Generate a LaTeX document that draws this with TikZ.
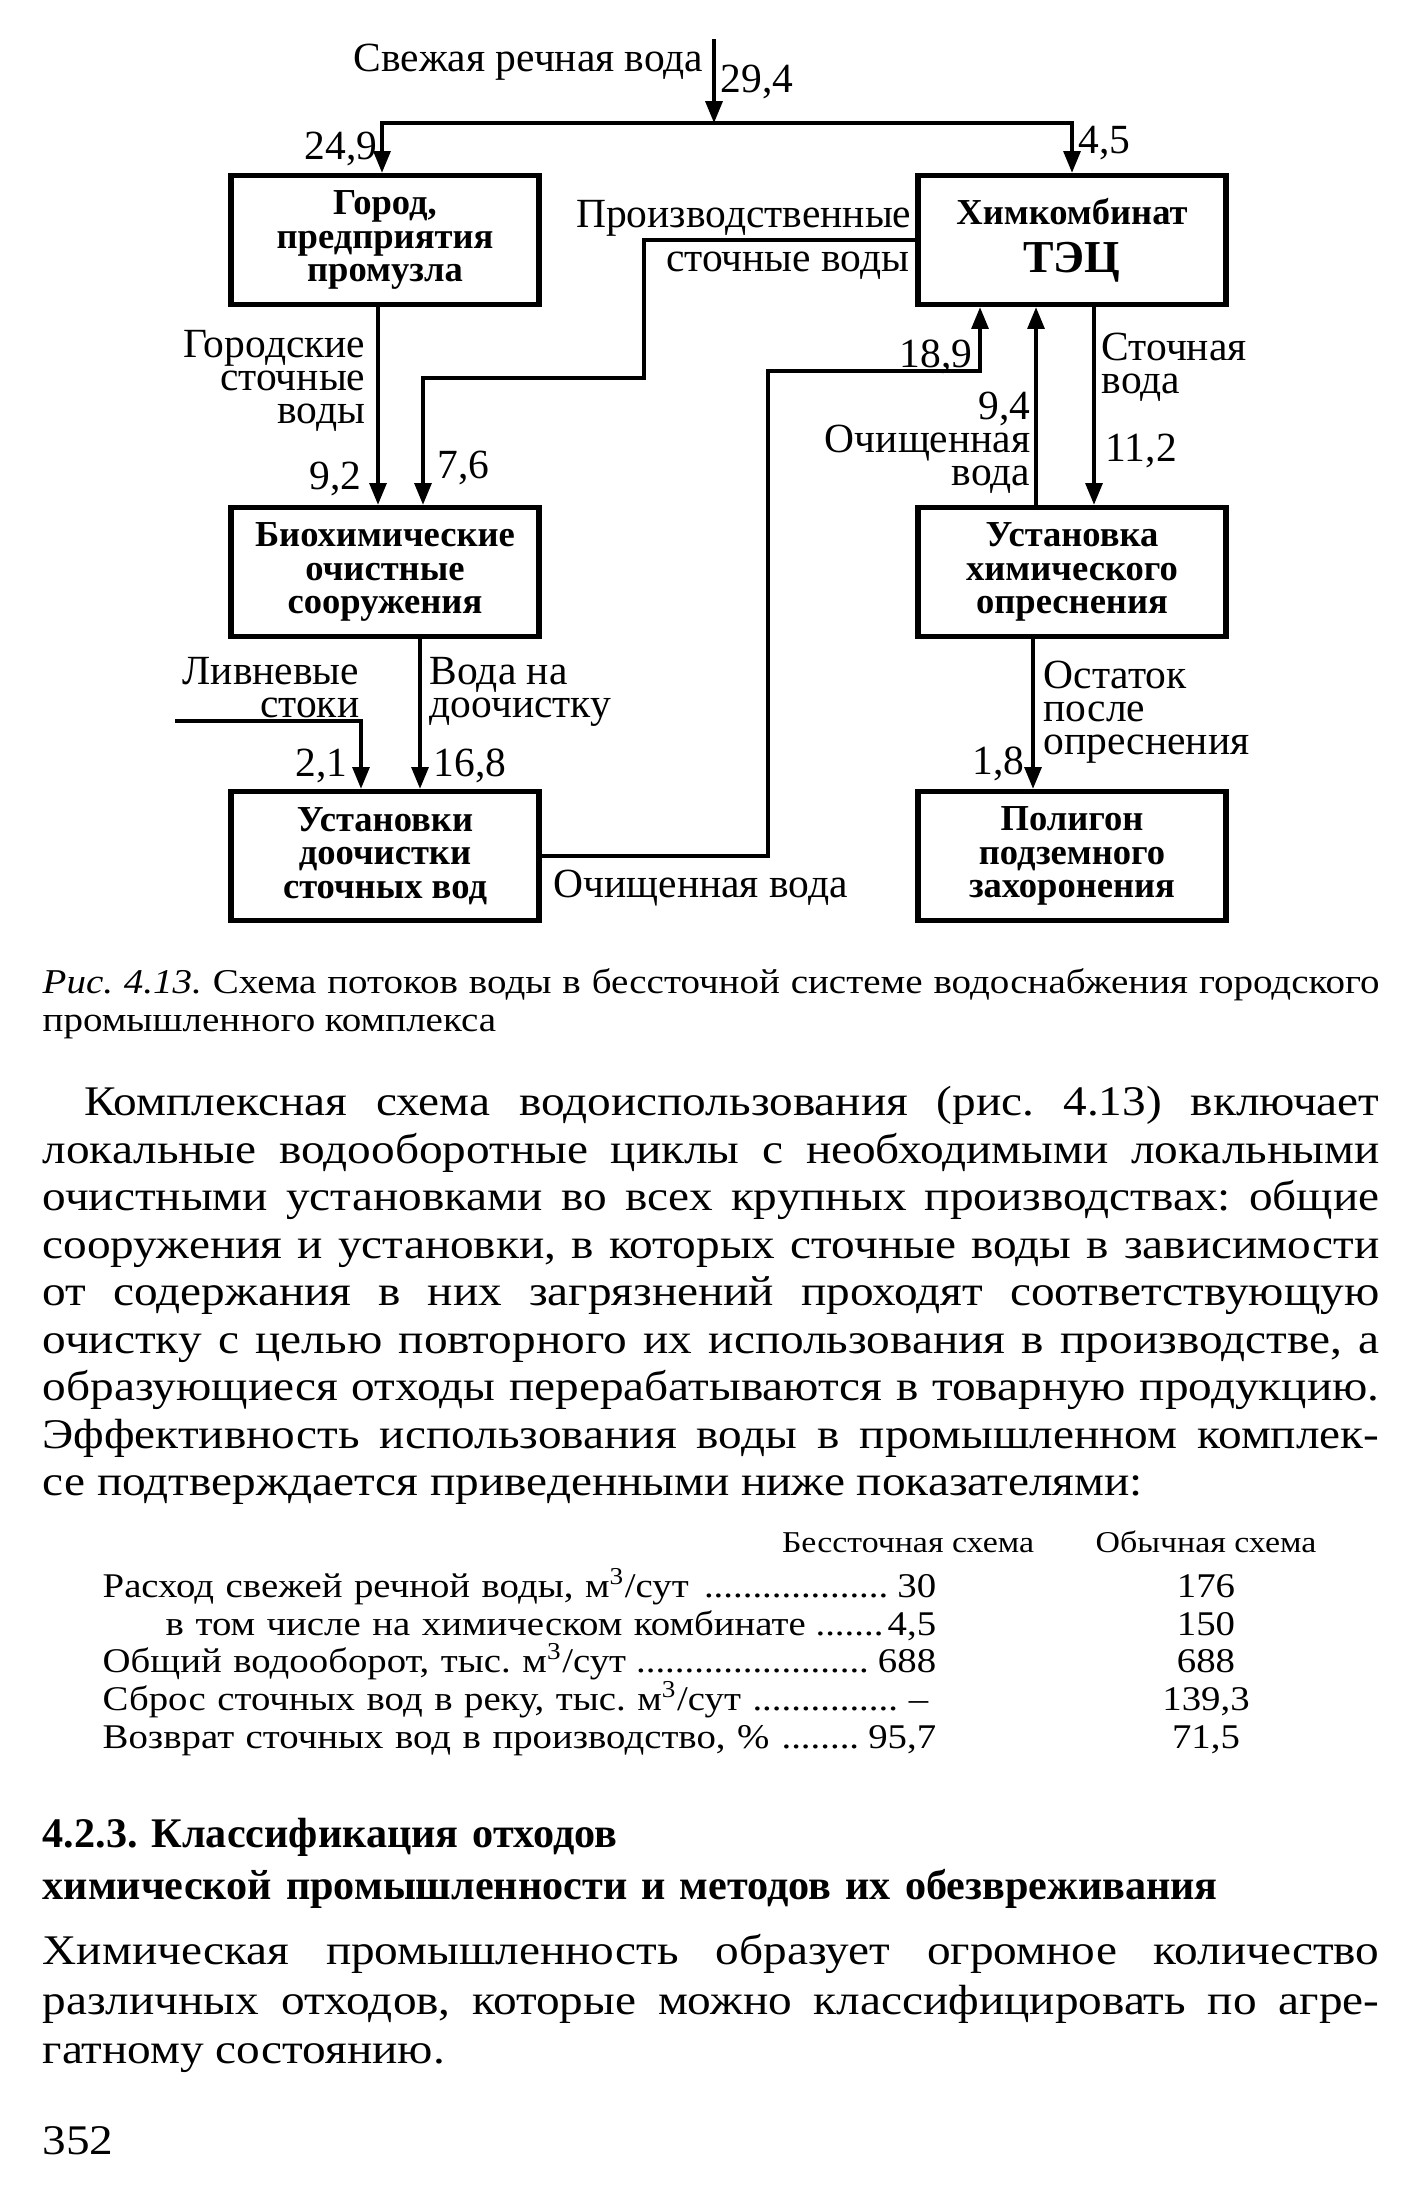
\documentclass[tikz,border=0pt]{standalone}
\usepackage{fontspec}
\setmainfont{Liberation Serif}
\newfontfamily\bookfont{Liberation Serif}[FakeStretch=1.12]
\usetikzlibrary{positioning, arrows.meta, calc}

\hyphenpenalty=10000
\tolerance=10000
\frenchspacing
\newcommand\leaderdots{\hspace{2pt}\leaders\hbox to 0.28em{\hss.\hss}\hfill\hspace{1pt}}
\newcommand\tightlines{\lineskiplimit=-20pt\relax}

\tikzset{
  box/.style={draw, line width=1.5pt, minimum width=3.08cm, minimum height=1.29cm,
    inner sep=0pt, align=center, font=\fontsize{10.4}{9.6}\selectfont\bfseries},
  flow/.style={line width=1pt, -{Triangle[length=6.2pt, width=4.8pt]}},
  lbl/.style={inner sep=0pt, font={\fontsize{11.8}{9.4}\selectfont\tightlines}},
  txt/.style={inner sep=0pt, text width=13.36cm, align=justify},
  row/.style={inner sep=0pt, font=\bookfont\fontsize{9.85}{11}\selectfont},
}

\begin{document}
\begin{tikzpicture}[x=0.01cm, y=-0.01cm]
\fill[white] (0,0) rectangle (1419,2194);
\useasboundingbox (0,0) rectangle (1419,2194);

\node[box] (gorod) at (385,240) {Город,\\предприятия\\промузла};
\node[box] (him) at (1072,240) {Химкомбинат\\[4pt]{\fontsize{13}{13}\selectfont ТЭЦ}};
\node[box] (bio) at (385,572) {Биохимические\\очистные\\сооружения};
\node[box] (opr) at (1072,572) {Установка\\химического\\опреснения};
\node[box] (ust) at (385,856) {Установки\\доочистки\\сточных вод};
\node[box] (pol) at (1072,856) {Полигон\\подземного\\захоронения};

\coordinate (src) at (714,39);
\coordinate (split) at (714,123);
\coordinate (pbend) at (644,378);
\coordinate (rain) at (175,721);
\coordinate (cbend) at (768,371);

\draw[flow] (src) -- (split);
\draw[flow] (split) -| ($(gorod.north)+(-3,0)$);
\draw[flow] (split) -| (him.north);
\draw[flow] (him.west) -| (pbend) -| ($(bio.north)+(38,0)$);
\draw[flow] ($(gorod.south)+(-7,0)$) -- ($(bio.north)+(-7,0)$);
\draw[flow] ($(bio.south)+(35,0)$) -- ($(ust.north)+(35,0)$);
\draw[flow] (rain) -| ($(ust.north)+(-24,0)$);
\draw[flow] (ust.east) -| (cbend) -| ($(him.south)+(-92,0)$);
\draw[flow] ($(opr.north)+(-36,0)$) -- ($(him.south)+(-36,0)$);
\draw[flow] ($(him.south)+(22,0)$) -- ($(opr.north)+(22,0)$);
\draw[flow] ($(opr.south)+(-39,0)$) -- ($(pol.north)+(-39,0)$);

\node[lbl, anchor=east] (fresh) at (704,62) {Свежая речная вода};
\node[lbl, anchor=west] (q294) at (720,82) {29,4};
\node[lbl, anchor=east] (q249) at (378,149) {24,9};
\node[lbl, anchor=west] (q45) at (1078,143) {4,5};
\node[lbl, anchor=east] (prod) at (912,218) {Производственные};
\node[lbl, anchor=east] (prod2) at (910,266) {сточные воды};
\node[lbl, anchor=east, align=right] (city) at (366,381) {Городские\\сточные\\воды};
\node[lbl, anchor=east] (q92) at (362,479) {9,2};
\node[lbl, anchor=west] (q76) at (437,468) {7,6};
\node[lbl, anchor=west, align=left] (todo) at (429,692) {Вода на\\доочистку};
\node[lbl, anchor=east, align=right] (storm) at (360,688) {Ливневые\\стоки};
\node[lbl, anchor=west] (q168) at (433,766) {16,8};
\node[lbl, anchor=east] (q21) at (348,766) {2,1};
\node[lbl, anchor=west] (clean) at (553,888) {Очищенная вода};
\node[lbl, anchor=east] (q189) at (973,357) {18,9};
\node[lbl, anchor=east, align=right] (clean2) at (1031,443) {9,4\\Очищенная\\вода};
\node[lbl, anchor=west, align=left] (waste) at (1101,367) {Сточная\\вода};
\node[lbl, anchor=west] (q112) at (1105,451) {11,2};
\node[lbl, anchor=west, align=left] (rest) at (1043,712) {Остаток\\после\\опреснения};
\node[lbl, anchor=east] (q18) at (1025,764) {1,8};

\node[txt, anchor=north west, font=\bookfont\fontsize{9.9}{10.8}\selectfont] (caption) at (42,968)
  {\textit{Рис. 4.13.} Схема потоков воды в бессточной системе водоснабжения городского\linebreak
   промышленного комплекса};

\node[txt, anchor=north west, font=\bookfont\fontsize{12}{13.5}\selectfont] (para1) at (42,1086)
  {\hspace*{0.42cm}Комплексная схема водоиспользования (рис. 4.13) включает\linebreak
   локальные водооборотные циклы с необходимыми локальными\linebreak
   очистными установками во всех крупных производствах: общие\linebreak
   сооружения и установки, в которых сточные воды в зависимости\linebreak
   от содержания в них загрязнений проходят соответствующую\linebreak
   очистку с целью повторного их использования в производстве, а\linebreak
   образующиеся отходы перерабатываются в товарную продукцию.\linebreak
   Эффективность использования воды в промышленном комплек-\linebreak
   се подтверждается приведенными ниже показателями:};

\node[row, anchor=base, font=\bookfont\fontsize{8.6}{10}\selectfont] (h1) at (908,1552) {Бессточная схема};
\node[row, anchor=base, font=\bookfont\fontsize{8.6}{10}\selectfont] (h2) at (1206,1552) {Обычная схема};

\node[row, anchor=base west, text width=8.33cm] (r1) at (102,1597)
  {Расход свежей речной воды, м\textsuperscript{3}/сут\leaderdots 30};
\node[row, anchor=base west, text width=7.70cm] (r2) at (165,1635)
  {в том числе на химическом комбинате\leaderdots 4,5};
\node[row, anchor=base west, text width=8.33cm] (r3) at (102,1672)
  {Общий водооборот, тыс. м\textsuperscript{3}/сут\leaderdots 688};
\node[row, anchor=base west, text width=8.25cm] (r4) at (102,1710)
  {Сброс сточных вод в реку, тыс. м\textsuperscript{3}/сут\leaderdots –};
\node[row, anchor=base west, text width=8.33cm] (r5) at (102,1748)
  {Возврат сточных вод в производство, \%\leaderdots 95,7};

\node[row, anchor=base] (v1) at (1206,1597) {176};
\node[row, anchor=base] (v2) at (1206,1635) {150};
\node[row, anchor=base] (v3) at (1206,1672) {688};
\node[row, anchor=base] (v4) at (1206,1710) {139,3};
\node[row, anchor=base] (v5) at (1206,1748) {71,5};

\node[txt, anchor=north west, align=left, font=\fontsize{12}{14.8}\selectfont\bfseries] (head) at (42,1817)
  {4.2.3. Классификация отходов\\
   химической промышленности и методов их обезвреживания};

\node[txt, anchor=north west, font=\bookfont\fontsize{12}{14}\selectfont] (para2) at (42,1934)
  {Химическая промышленность образует огромное количество\linebreak
   различных отходов, которые можно классифицировать по агре-\linebreak
   гатному состоянию.};

\node[row, anchor=base west, font=\bookfont\fontsize{12}{14}\selectfont] (page) at (42,2154) {352};
\end{tikzpicture}
\end{document}
